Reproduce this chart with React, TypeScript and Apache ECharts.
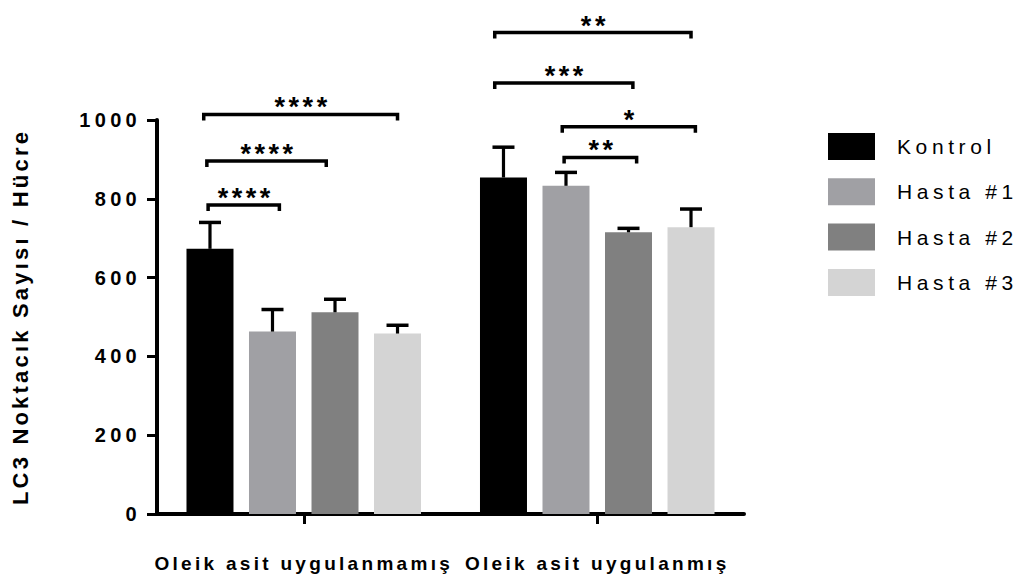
import React, { useEffect, useRef } from "react";
import * as echarts from "echarts";

const categories = ["Oleik asit uygulanmamış", "Oleik asit uygulanmış"];
const seriesNames = ["Kontrol", "Hasta #1", "Hasta #2", "Hasta #3"];
const kontrol = [673, 854];
const hasta1 = [463, 833];
const hasta2 = [512, 715];
const hasta3 = [458, 728];
const kontrolUpper = [740, 931];
const hasta1Upper = [519, 867];
const hasta2Upper = [545, 725];
const hasta3Upper = [479, 774];
const yTicks = [0, 200, 400, 600, 800, 1000];

// significance brackets: category, from bar slot, to bar slot, level, label
const bracketCategory = [0, 0, 0, 1, 1, 1, 1];
const bracketFrom = [-0.1, -0.05, -0.03, -0.14, -0.14, 0.94, 0.97];
const bracketTo = [3.0, 1.86, 1.11, 3.0, 2.07, 3.07, 2.13];
const bracketLevel = [1014, 896, 784, 1222, 1094, 983, 905];
const bracketLabel = ["****", "****", "****", "**", "***", "*", "**"];

const colors = ["#000000", "#a0a0a4", "#808080", "#d4d4d4"];
const FONT = '"Liberation Sans", Arial, sans-serif';
const BAR_W = 47;
const BAR_GAP = 0.33;
const PITCH = BAR_W * (1 + BAR_GAP);

export default function App() {
  const ref = useRef<HTMLDivElement>(null);
  useEffect(() => {
    if (!ref.current) return;
    const chart = echarts.init(ref.current, undefined, { renderer: "svg" });
    const means = [kontrol, hasta1, hasta2, hasta3];
    const uppers = [kontrolUpper, hasta1Upper, hasta2Upper, hasta3Upper];
    const errData: number[][] = [];
    for (let c = 0; c < categories.length; c++) {
      for (let k = 0; k < means.length; k++) {
        errData.push([c, k, means[k][c], uppers[k][c]]);
      }
    }
    const bracketData = bracketCategory.map((c, i) => [c, bracketFrom[i], bracketTo[i], bracketLevel[i]]);

    const option: any = {
      animation: false,
      backgroundColor: "#ffffff",
      grid: { left: 157, right: 277, top: 120, bottom: 66, containLabel: false, outerBoundsMode: "none" },
      legend: {
        orient: "vertical",
        left: 828,
        top: 133,
        padding: 0,
        itemWidth: 47,
        itemHeight: 27,
        itemGap: 18.3,
        icon: "rect",
        data: seriesNames,
        textStyle: { fontSize: 21, color: "#000", fontFamily: FONT, padding: [0, 0, 0, 17] },
      },
      xAxis: {
        type: "category",
        data: categories,
        axisLine: { show: true, lineStyle: { color: "#000", width: 4 } },
        axisTick: { show: true, alignWithLabel: true, length: 10, lineStyle: { color: "#000", width: 3 } },
        axisLabel: { interval: 0, fontSize: 19, fontWeight: "bold", color: "#000", fontFamily: FONT, margin: 40 },
        splitLine: { show: false },
      },
      yAxis: {
        type: "value",
        min: yTicks[0],
        max: yTicks[yTicks.length - 1],
        interval: yTicks[1] - yTicks[0],
        name: "LC3 Noktacık Sayısı / Hücre",
        nameLocation: "middle",
        nameRotate: 90,
        nameGap: 126,
        nameTextStyle: { fontSize: 22, fontWeight: "bold", color: "#000", fontFamily: FONT },
        axisLine: { show: true, lineStyle: { color: "#000", width: 4 } },
        axisTick: { show: true, length: 10, lineStyle: { color: "#000", width: 3 } },
        axisLabel: {
          fontSize: 20,
          fontWeight: "bold",
          color: "#000",
          fontFamily: FONT,
          margin: 16,
          formatter: (v: number) => String(v),
        },
        splitLine: { show: false },
      },
      series: [
        ...seriesNames.map((name, k) => ({
          name,
          type: "bar",
          data: means[k],
          barWidth: BAR_W,
          barGap: BAR_GAP * 100 + "%",
          itemStyle: { color: colors[k] },
        })),
        {
          type: "custom",
          name: "err",
          data: errData,
          encode: { x: 0, y: [2, 3] },
          z: 5,
          clip: false,
          renderItem: (params: any, api: any) => {
            const c = api.value(0);
            const k = api.value(1);
            const base = api.coord([c, api.value(2)]);
            const top = api.coord([c, api.value(3)]);
            const x = base[0] + (k - 1.5) * PITCH;
            return {
              type: "group",
              children: [
                { type: "line", shape: { x1: x, y1: base[1], x2: x, y2: top[1] }, style: { stroke: "#000", lineWidth: 3.2 } },
                { type: "line", shape: { x1: x - 11, y1: top[1], x2: x + 11, y2: top[1] }, style: { stroke: "#000", lineWidth: 3.5 } },
              ],
            };
          },
        },
        {
          type: "custom",
          name: "sig",
          data: bracketData,
          encode: { x: 0, y: 3 },
          z: 6,
          clip: false,
          renderItem: (params: any, api: any) => {
            const c = api.value(0);
            const center = api.coord([c, api.value(3)]);
            const x0 = center[0] + (api.value(1) - 1.5) * PITCH;
            const x1 = center[0] + (api.value(2) - 1.5) * PITCH;
            const y = center[1];
            return {
              type: "group",
              children: [
                {
                  type: "polyline",
                  shape: { points: [[x0, y + 6], [x0, y], [x1, y], [x1, y + 6]] },
                  style: { stroke: "#000", lineWidth: 3.5, fill: "none" },
                },
                {
                  type: "text",
                  x: (x0 + x1) / 2 + 2,
                  y: y - 7,
                  style: {
                    text: bracketLabel[params.dataIndex],
                    fill: "#000",
                    font: 'bold 27px "Liberation Sans", Arial, sans-serif',
                    align: "center",
                    verticalAlign: "middle",
                    textAlign: "center",
                    textVerticalAlign: "middle",
                  },
                },
              ],
            };
          },
        },
      ],
    };
    chart.setOption(option);
    return () => chart.dispose();
  }, []);

  return (
    <>
      <style>{`
        .lc3 text[style*="20px"] { letter-spacing: 4.3px; }
        .lc3 text[style*="19px"] { letter-spacing: 3.3px; }
        .lc3 text[style*="22px"] { letter-spacing: 3.2px; }
        .lc3 text[style*="21px"] { letter-spacing: 4.6px; }
        .lc3 text[style*="27px"] { letter-spacing: 3.5px; }
      `}</style>
      <div
        ref={ref}
        className="lc3"
        style={{ position: "fixed", left: 0, top: 0, width: 1021, height: 580, background: "#fff" }}
      />
    </>
  );
}
